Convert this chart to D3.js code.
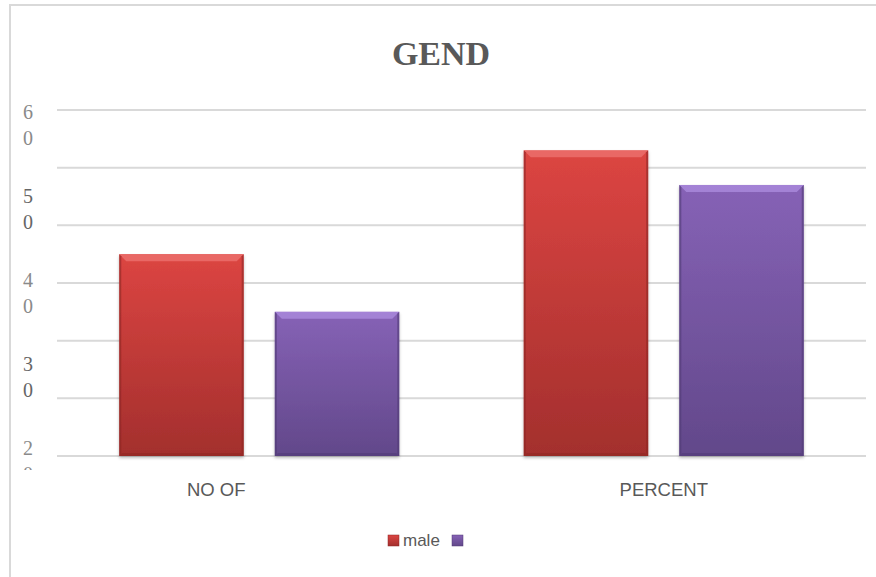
<!DOCTYPE html>
<html>
<head>
<meta charset="utf-8">
<script src="https://cdn.jsdelivr.net/npm/d3@7"></script>
<style>
  body { margin: 0; background: #fff; }
  svg { display: block; }
</style>
</head>
<body>
<svg width="876" height="577"></svg>
<script>
// data
const categories = ['NO OF', 'PERCENT'];
const seriesNames = ['male', ''];
const male = [35, 53];
const female = [25, 47];
const yTicks = [0, 10, 20, 30, 40, 50, 60];
const yTickLabels = ['60', '50', '40', '30', '20', '10', '0'];

const svg = d3.select('svg');
const width = +svg.attr('width');
const height = +svg.attr('height');

const margin = { top: 110, right: 10, bottom: 121, left: 57 };
const innerWidth = width - margin.left - margin.right;
const innerHeight = height - margin.top - margin.bottom;

const colors = [
  { top: '#dc4542', bottom: '#a32f2d', bevel: '#ee7472', edge: '#8c2624' },
  { top: '#8662b6', bottom: '#62488a', bevel: '#ad8ee0', edge: '#503a74' }
];

// frame
svg.append('path')
  .attr('d', `M10,${height} L10,5 L${width},5`)
  .attr('fill', 'none')
  .attr('stroke', '#d9d9d9')
  .attr('stroke-width', 2);

const defs = svg.append('defs');
colors.forEach((c, i) => {
  const lg = defs.append('linearGradient')
    .attr('id', 'grad' + i)
    .attr('x1', 0).attr('y1', 0).attr('x2', 0).attr('y2', 1);
  lg.append('stop').attr('offset', '0%').attr('stop-color', c.top);
  lg.append('stop').attr('offset', '100%').attr('stop-color', c.bottom);
});
const shadow = defs.append('filter').attr('id', 'shadow')
  .attr('x', '-10%').attr('y', '-10%').attr('width', '120%').attr('height', '120%');
shadow.append('feDropShadow')
  .attr('dx', 0).attr('dy', 2).attr('stdDeviation', 1.5)
  .attr('flood-color', '#000').attr('flood-opacity', 0.25);

defs.append('clipPath').attr('id', 'labelClip')
  .append('rect').attr('x', 0).attr('y', 0).attr('width', margin.left).attr('height', margin.top + innerHeight + 14);

const g = svg.append('g')
  .attr('transform', `translate(${margin.left},${margin.top})`);

const y = d3.scaleLinear().domain([0, 60]).range([innerHeight, 0]);
const x0 = d3.scaleBand().domain(categories).range([0, innerWidth]);
const x1 = d3.scaleBand().domain([0, 1]).range([0, 280]).paddingInner(0.2);

// gridlines
g.selectAll('.grid')
  .data(yTicks).enter()
  .append('line')
  .attr('x1', 0).attr('x2', innerWidth)
  .attr('y1', d => y(d)).attr('y2', d => y(d))
  .attr('stroke', '#d9d9d9')
  .attr('stroke-width', 2);

// y labels: each label wraps one character per line and they stack down
const labelStep = 84;
const lineStep = 26;
const yl = svg.append('g').attr('clip-path', 'url(#labelClip)');
yTickLabels.forEach((lab, i) => {
  const t = yl.append('text')
    .attr('x', 28)
    .attr('y', margin.top + 9 + i * labelStep)
    .attr('text-anchor', 'middle')
    .attr('fill', i % 2 ? '#666' : '#8a8a8a')
    .style('font-family', '"Liberation Serif", "DejaVu Serif", serif')
    .style('font-size', '20px');
  lab.split('').forEach((ch, j) => {
    t.append('tspan')
      .attr('x', 28)
      .attr('dy', j === 0 ? 0 : lineStep)
      .text(ch);
  });
});

// bars
const data = categories.map((c, i) => ({ cat: c, vals: [male[i], female[i]] }));
const groups = g.selectAll('.cat')
  .data(data).enter()
  .append('g')
  .attr('transform', d => `translate(${x0(d.cat) + (x0.bandwidth() - 280) / 2},0)`);

groups.each(function(d) {
  const sel = d3.select(this);
  d.vals.forEach((v, s) => {
    const bx = x1(s), bw = x1.bandwidth();
    const by = y(v), bh = y(0) - y(v);
    const c = colors[s];
    const bar = sel.append('g').attr('filter', 'url(#shadow)');
    bar.append('rect')
      .attr('x', bx).attr('y', by).attr('width', bw).attr('height', bh)
      .attr('fill', `url(#grad${s})`);
    const b = 7;
    // top bevel
    bar.append('polygon')
      .attr('points', `${bx},${by} ${bx + bw},${by} ${bx + bw - b},${by + b} ${bx + b},${by + b}`)
      .attr('fill', c.bevel).attr('opacity', 0.75);
    // side edges
    bar.append('polygon')
      .attr('points', `${bx},${by} ${bx + 2},${by + 2} ${bx + 2},${by + bh - 2} ${bx},${by + bh}`)
      .attr('fill', c.edge).attr('opacity', 0.6);
    bar.append('polygon')
      .attr('points', `${bx + bw},${by} ${bx + bw - 2},${by + 2} ${bx + bw - 2},${by + bh - 2} ${bx + bw},${by + bh}`)
      .attr('fill', c.edge).attr('opacity', 0.6);
    // bottom bevel
    bar.append('polygon')
      .attr('points', `${bx},${by + bh} ${bx + bw},${by + bh} ${bx + bw - 3},${by + bh - 3} ${bx + 3},${by + bh - 3}`)
      .attr('fill', c.edge).attr('opacity', 0.5);
  });
});

// category labels
const labelShift = [-43, 0];
g.selectAll('.catlab')
  .data(categories).enter()
  .append('text')
  .attr('x', (d, i) => x0(d) + x0.bandwidth() / 2 + labelShift[i])
  .attr('y', innerHeight + 40)
  .attr('text-anchor', 'middle')
  .attr('fill', '#595959')
  .style('font-family', '"Liberation Sans", Arial, sans-serif')
  .style('font-size', '18.5px')
  .text(d => d);

// title
svg.append('text')
  .attr('x', 441)
  .attr('y', 65)
  .attr('text-anchor', 'middle')
  .attr('fill', '#595959')
  .style('font-family', '"Liberation Serif", "DejaVu Serif", serif')
  .style('font-weight', 'bold')
  .style('font-size', '34px')
  .text('GEND');

// legend
const legend = svg.append('g').attr('transform', 'translate(388,535)');
legend.append('rect').attr('x', 0).attr('y', 0).attr('width', 11).attr('height', 11)
  .attr('fill', `url(#grad0)`).attr('stroke', colors[0].edge).attr('stroke-width', 0.5);
legend.append('text')
  .attr('x', 15).attr('y', 11)
  .attr('fill', '#595959')
  .style('font-family', '"Liberation Sans", Arial, sans-serif')
  .style('font-size', '17px')
  .text(seriesNames[0]);
legend.append('rect').attr('x', 64).attr('y', 0).attr('width', 11).attr('height', 11)
  .attr('fill', `url(#grad1)`).attr('stroke', colors[1].edge).attr('stroke-width', 0.5);
</script>
</body>
</html>
